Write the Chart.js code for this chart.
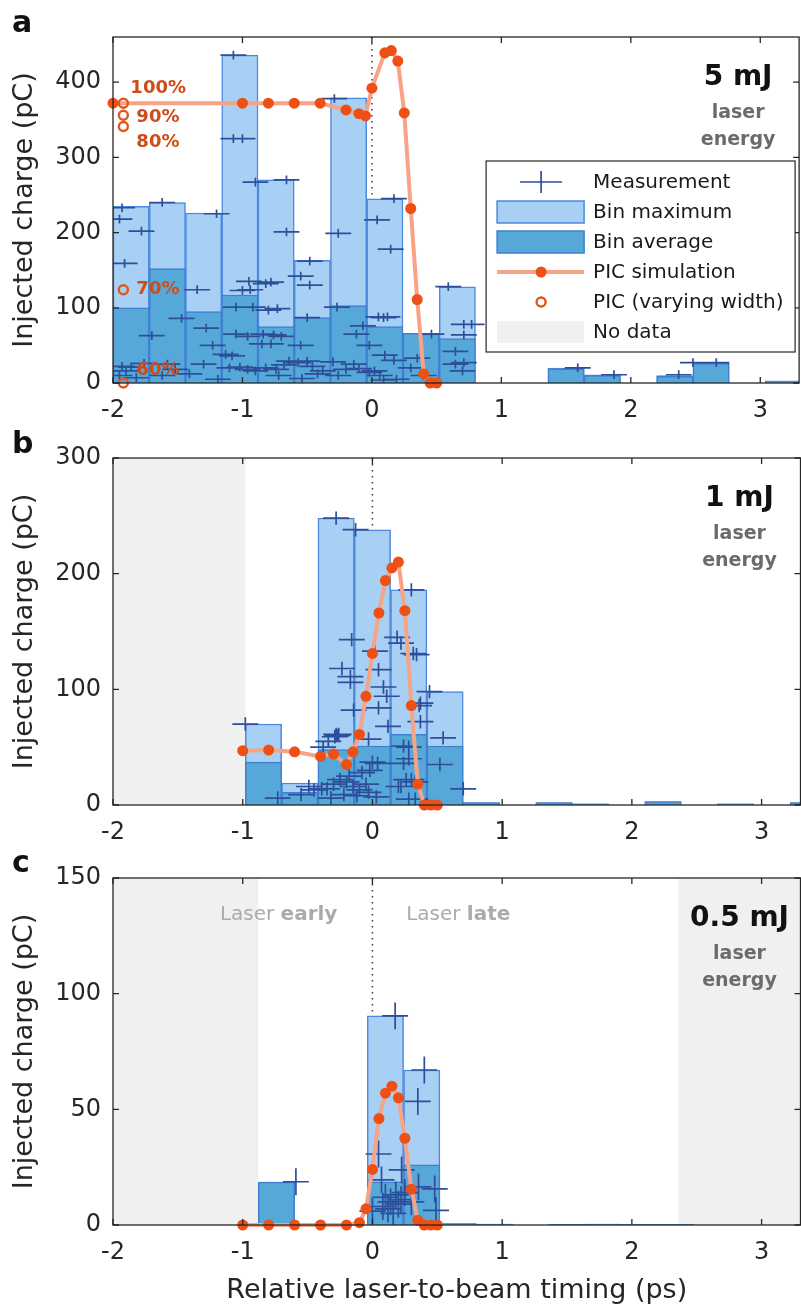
<!DOCTYPE html>
<html>
<head>
<meta charset="utf-8">
<script src="https://cdn.jsdelivr.net/npm/chart.js@4.4.0/dist/chart.umd.min.js"></script>
<style>
  html, body { margin: 0; padding: 0; background: #fff; overflow: hidden; }
  #wrap { position: relative; width: 806px; height: 1315px; }
  .panel { position: absolute; left: 0; width: 806px; }
</style>
</head>
<body>
<div id="wrap">
  <div class="panel" style="top:0;height:430px"><canvas id="chartA"></canvas></div>
  <div class="panel" style="top:430px;height:420px"><canvas id="chartB"></canvas></div>
  <div class="panel" style="top:850px;height:465px"><canvas id="chartC"></canvas></div>
</div>
<script>
// ---- data ----
const X_TICKS = [-2, -1, 0, 1, 2, 3];
const ERR_X = 0.1;   // ps, horizontal error bar of each shot
const ERR_Y = 5.8;   // pC, vertical error bar of each shot

// panel a : 5 mJ
const binsA = [-1.86, -1.58, -1.30, -1.02, -0.74, -0.46, -0.18, 0.10, 0.38, 0.66, 0.94, 1.22, 1.50, 1.78, 2.06, 2.34, 2.62, 2.90, 3.18];
const maxA  = [235, 240, 226, 436, 270, 163, 379, 245, 66, 128, 0, 0, 20, 11, 0, 10, 27, 0, 3];
const avgA  = [100, 152, 95, 117, 75, 87, 103, 75, 66, 59, 0, 0, 19, 10, 0, 9, 26, 0, 2];
const measXA = [-1.93, -1.95, -1.78, -1.91, -1.70, -1.93, -1.86, -1.76, -1.90, -1.95, -1.82,
  -1.62, -1.47, -1.58, -1.52, -1.62,
  -1.35, -1.28, -1.23, -1.20, -1.13, -1.41, -1.19, -1.30,
  -1.07, -1.07, -1.00, -1.00, -0.94, -0.95, -1.05, -0.92, -1.05, -0.96, -1.10, -1.02, -0.96, -0.90, -1.08,
  -0.90, -0.66, -0.66, -0.82, -0.78, -0.73, -0.80, -0.70, -0.76, -0.84, -0.85, -0.78, -0.82, -0.74, -0.68, -0.64, -0.72,
  -0.55, -0.48, -0.48, -0.50, -0.55, -0.57, -0.50, -0.42, -0.54, -0.38, -0.46,
  -0.29, -0.26, -0.27, -0.07, -0.20, -0.26, -0.14, -0.10, -0.02, -0.12, -0.30,
  0.17, 0.04, 0.145, 0.12, 0.09, -0.02, 0.10, 0.17, 0.02, 0.06, 0.09, 0.19, 0.05,
  0.46, 0.30, 0.40, 0.35,
  0.59, 0.71, 0.77, 0.71, 0.645, 0.71, 0.645, 0.70,
  1.59, 1.87, 2.37, 2.48, 2.66];
const measYA = [233, 218, 202, 159, 63, 22, 21, 26, 16, 10, 7,
  240, 86, 25, 18, 10,
  124, 73, 50, 225, 38, 12, 5, 25,
  436, 325, 325, 123, 124, 135, 101, 101, 65, 62, 20, 21, 18, 16, 36,
  267, 270, 201, 132, 134, 99, 97, 62, 64, 65, 52, 52, 20, 18, 24, 29, 10,
  142, 162, 130, 87, 50, 27, 29, 12, 6, 16, 22,
  378, 199, 101, 76, 18, 10, 25, 19, 50, 65, 28,
  245, 217, 178, 88, 87, 14, 37, 30, 16, 10, 4, 5, 88,
  65, 20, 10, 33,
  128, 78, 78, 64, 42, 27, 25, 16,
  20, 11, 11, 27, 27];
const picXA = [-2, -1, -0.8, -0.6, -0.4, -0.2, -0.1, -0.05, 0, 0.1, 0.15, 0.2, 0.25, 0.3, 0.35, 0.4, 0.45, 0.5];
const picYA = [372, 372, 372, 372, 372, 363, 358, 355, 392, 439, 442, 428, 359, 232, 111, 12, 0, 0];
const varyXA = [-1.92, -1.92, -1.92, -1.92, -1.92];
const varyYA = [372, 356, 341, 124, 0];
const varyLabels = ['100%', '90%', '80%', '70%', '60%'];

// panel b : 1 mJ
const binsB = [-0.84, -0.56, -0.28, 0.00, 0.28, 0.56, 0.84, 1.12, 1.40, 1.68, 1.96, 2.24, 2.52, 2.80, 3.08, 3.36];
const maxB  = [70, 19, 248, 238, 186, 98, 2, 0, 2, 1, 0, 3, 0, 1, 0, 2];
const avgB  = [37, 11, 48, 51, 61, 51, 2, 0, 2, 1, 0, 3, 0, 1, 0, 2];
const measXB = [-0.98, -0.73, -0.49, -0.45, -0.55,
  -0.28, -0.13, -0.16, -0.235, -0.17, -0.17, -0.145, -0.28, -0.26, -0.34, -0.38, -0.29, -0.27,
  -0.39, -0.35, -0.30, -0.25, -0.20, -0.15, -0.10, -0.05, -0.22, -0.12, -0.03, 0.03, -0.32, -0.18, -0.08, 0.00, -0.02, 0.04,
  0.02, 0.047, 0.085, 0.11, 0.047, 0.12, -0.03,
  0.19, 0.22, 0.30, 0.315, 0.34, 0.28, 0.28, 0.24, 0.24, 0.26, 0.30, 0.33, 0.20, 0.28, 0.33,
  0.44, 0.37, 0.37, 0.36, 0.545, 0.52, 0.70, 0.22];
const measYB = [70, 6, 16, 13, 9,
  248, 238, 143, 118, 111, 106, 82, 61, 61, 55, 50, 59, 60,
  14, 14, 18, 22, 20, 16, 13, 18, 9, 8, 11, 7, 6, 25, 28, 37, 30, 36,
  133, 117, 102, 94, 84, 68, 57,
  145, 140, 186, 131, 130, 50, 40, 51, 36, 22, 22, 20, 16, 5, 5,
  98, 88, 72, 86, 58, 35, 14, 16];
const picXB = [-1, -0.8, -0.6, -0.4, -0.3, -0.2, -0.15, -0.1, -0.05, 0, 0.05, 0.1, 0.15, 0.2, 0.25, 0.3, 0.35, 0.4, 0.45, 0.5];
const picYB = [47, 47.5, 46, 42, 44, 35, 46, 61, 94, 131, 166, 194, 205, 210, 168, 86, 18, 0, 0, 0];

// panel c : 0.5 mJ
const binsC = [-0.74, -0.46, -0.18, 0.10, 0.38, 0.66, 0.94, 1.22, 1.50, 1.78, 2.06, 2.34];
const maxC  = [18.5, 0.6, 0, 90.4, 67, 0.6, 0.4, 0, 0.3, 0.4, 0.3, 0.3];
const avgC  = [18.5, 0.6, 0, 18.7, 26, 0.6, 0.4, 0, 0.3, 0.4, 0.3, 0.3];
const measXC = [-0.59, 0.175, 0.40, 0.35, 0.047, 0.07, 0.225, 0.48, 0.49, 0.355, 0.00, 0.10, 0.14, 0.18, 0.20, 0.12, 0.16, 0.08, 0.22, 0.25, 0.30];
const measYC = [18.7, 90.4, 67, 53.4, 30.7, 19.5, 23.8, 15.6, 6.3, 16.5, 6, 12, 10, 13, 9, 7, 5, 8, 11, 14, 10];
const picXC = [-1, -0.8, -0.6, -0.4, -0.2, -0.1, -0.05, 0, 0.05, 0.1, 0.15, 0.2, 0.25, 0.3, 0.35, 0.4, 0.45, 0.5];
const picYC = [0, 0, 0, 0, 0, 1, 7, 24, 46, 57, 60, 55, 37.5, 15.5, 2, 0, 0, 0];

// ---- styles ----
const FONT = "'DejaVu Sans', sans-serif";
const C = {
  text: '#262626',
  maxFill: '#a8d0f4', maxLine: '#4c88dc',
  avgFill: '#56a8d9', avgLine: '#3f7fd2',
  meas: '#2d4f9a',
  picLine: '#f8a385', picDot: '#ee4f14',
  vary: '#e2561c', pct: '#cf4c19',
  noData: '#f0f0f0', grey: '#6b6b6b', laserTxt: '#ababab'
};

const pts = (xs, ys) => xs.map((x, i) => ({ x: x, y: ys[i] }));

// gray "no data" areas and the dotted t = 0 line
const backPlugin = {
  id: 'back',
  beforeDatasetsDraw(chart) {
    const { ctx, chartArea: a, scales: { x } } = chart;
    const p = chart.options.panel;
    ctx.save();
    ctx.fillStyle = C.noData;
    (p.noData || []).forEach(r => {
      const x0 = Math.max(a.left, x.getPixelForValue(r[0]));
      const x1 = Math.min(a.right, x.getPixelForValue(r[1]));
      ctx.fillRect(x0, a.top, x1 - x0, a.bottom - a.top);
    });
    const z = x.getPixelForValue(0);
    ctx.strokeStyle = '#3a3a3a';
    ctx.lineWidth = 1.5;
    ctx.setLineDash([1.6, 4.4]);
    ctx.beginPath();
    ctx.moveTo(z, a.top);
    ctx.lineTo(z, a.bottom);
    ctx.stroke();
    ctx.restore();
  }
};

// crosses for the measurements
const errorBarPlugin = {
  id: 'errorBars',
  afterDatasetDraw(chart, args) {
    const ds = chart.data.datasets[args.index];
    if (!ds.errX) return;
    const { ctx, chartArea: a, scales: { x, y } } = chart;
    ctx.save();
    ctx.beginPath();
    ctx.rect(a.left, a.top, a.right - a.left, a.bottom - a.top);
    ctx.clip();
    ctx.strokeStyle = C.meas;
    ctx.lineWidth = 1.7;
    ctx.beginPath();
    ds.data.forEach(pt => {
      const px = x.getPixelForValue(pt.x), py = y.getPixelForValue(pt.y);
      ctx.moveTo(x.getPixelForValue(pt.x - ds.errX), py);
      ctx.lineTo(x.getPixelForValue(pt.x + ds.errX), py);
      ctx.moveTo(px, y.getPixelForValue(pt.y - ds.errY));
      ctx.lineTo(px, y.getPixelForValue(pt.y + ds.errY));
    });
    ctx.stroke();
    ctx.restore();
  }
};

// box, inward ticks and all the labels
const frontPlugin = {
  id: 'front',
  afterDraw(chart) {
    const { ctx, chartArea: a, scales: { x, y } } = chart;
    const p = chart.options.panel;
    ctx.save();
    ctx.strokeStyle = C.text;
    ctx.lineWidth = 1.3;
    ctx.strokeRect(a.left, a.top, a.right - a.left, a.bottom - a.top);
    ctx.beginPath();
    X_TICKS.forEach(v => {
      const px = x.getPixelForValue(v);
      ctx.moveTo(px, a.bottom); ctx.lineTo(px, a.bottom - 6);
      ctx.moveTo(px, a.top); ctx.lineTo(px, a.top + 6);
    });
    y.ticks.forEach(t => {
      const py = y.getPixelForValue(t.value);
      ctx.moveTo(a.left, py); ctx.lineTo(a.left + 6, py);
      ctx.moveTo(a.right, py); ctx.lineTo(a.right - 6, py);
    });
    ctx.stroke();

    // panel letter
    ctx.fillStyle = '#111';
    ctx.font = 'bold 30px ' + FONT;
    ctx.textAlign = 'left';
    ctx.textBaseline = 'alphabetic';
    ctx.fillText(p.letter, 12, p.letterY);

    // energy label
    const cx = a.right - 61;
    ctx.textAlign = 'center';
    ctx.font = 'bold 28px ' + FONT;
    ctx.fillText(p.energy, cx, a.top + 48);
    ctx.fillStyle = C.grey;
    ctx.font = 'bold 19px ' + FONT;
    ctx.fillText('laser', cx, a.top + 81);
    ctx.fillText('energy', cx, a.top + 108);

    if (p.earlyLate) {
      const by = a.top + 42;
      ctx.fillStyle = C.laserTxt;
      ctx.textAlign = 'left';
      ctx.font = 'bold 20px ' + FONT;
      const wEarly = ctx.measureText('early').width;
      ctx.font = '20px ' + FONT;
      const wLaser = ctx.measureText('Laser ').width;
      let xe = x.getPixelForValue(-0.27) - wEarly - wLaser;
      ctx.fillText('Laser ', xe, by);
      ctx.font = 'bold 20px ' + FONT;
      ctx.fillText('early', xe + wLaser, by);
      const xl = x.getPixelForValue(0.26);
      ctx.font = '20px ' + FONT;
      ctx.fillText('Laser ', xl, by);
      ctx.font = 'bold 20px ' + FONT;
      ctx.fillText('late', xl + wLaser, by);
    }

    if (p.vary) {
      const offs = [[7, -15], [13, 2], [13, 16], [13, 0], [13, -13]];
      ctx.fillStyle = C.pct;
      ctx.font = 'bold 18px ' + FONT;
      ctx.textAlign = 'left';
      ctx.textBaseline = 'middle';
      varyLabels.forEach((t, i) => {
        ctx.fillText(t, x.getPixelForValue(varyXA[i]) + offs[i][0], y.getPixelForValue(varyYA[i]) + offs[i][1]);
      });
    }

    if (p.legend) drawLegend(ctx, a);
    ctx.restore();
  }
};

function drawLegend(ctx, a) {
  const L = a.right - 313, T = a.top + 124, W = 309, H = 191;
  ctx.fillStyle = '#fff';
  ctx.fillRect(L, T, W, H);
  ctx.strokeStyle = C.text;
  ctx.lineWidth = 1.2;
  ctx.strokeRect(L, T, W, H);
  const sx0 = L + 11, sx1 = L + 98, sc = L + 55, tx = L + 107;
  const rows = ['Measurement', 'Bin maximum', 'Bin average', 'PIC simulation', 'PIC (varying width)', 'No data'];
  rows.forEach((label, i) => {
    const cy = T + 21 + 30 * i;
    if (i === 0) {
      ctx.strokeStyle = C.meas; ctx.lineWidth = 1.7;
      ctx.beginPath();
      ctx.moveTo(sc - 21, cy); ctx.lineTo(sc + 21, cy);
      ctx.moveTo(sc, cy - 11); ctx.lineTo(sc, cy + 11);
      ctx.stroke();
    } else if (i === 1 || i === 2) {
      ctx.fillStyle = i === 1 ? C.maxFill : C.avgFill;
      ctx.strokeStyle = i === 1 ? C.maxLine : C.avgLine;
      ctx.lineWidth = 1.5;
      ctx.fillRect(sx0, cy - 11, sx1 - sx0, 22);
      ctx.strokeRect(sx0, cy - 11, sx1 - sx0, 22);
    } else if (i === 3) {
      ctx.strokeStyle = C.picLine; ctx.lineWidth = 4;
      ctx.beginPath(); ctx.moveTo(sx0, cy); ctx.lineTo(sx1, cy); ctx.stroke();
      ctx.fillStyle = C.picDot;
      ctx.beginPath(); ctx.arc(sc, cy, 5.5, 0, Math.PI * 2); ctx.fill();
    } else if (i === 4) {
      ctx.strokeStyle = C.vary; ctx.lineWidth = 2.4;
      ctx.beginPath(); ctx.arc(sc, cy, 4.5, 0, Math.PI * 2); ctx.stroke();
    } else {
      ctx.fillStyle = C.noData;
      ctx.fillRect(sx0, cy - 11, sx1 - sx0, 22);
    }
    ctx.fillStyle = '#1a1a1a';
    ctx.font = '20px ' + FONT;
    ctx.textAlign = 'left';
    ctx.textBaseline = 'middle';
    ctx.fillText(label, tx, cy + 1);
  });
}

function makePanel(id, p) {
  const datasets = [
    { label: 'Bin maximum', data: pts(p.bins, p.max), backgroundColor: C.maxFill, borderColor: C.maxLine,
      borderWidth: 1.5, grouped: false, barPercentage: 1, categoryPercentage: 1, order: 5 },
    { label: 'Bin average', data: pts(p.bins, p.avg), backgroundColor: C.avgFill, borderColor: C.avgLine,
      borderWidth: 1.5, grouped: false, barPercentage: 1, categoryPercentage: 1, order: 4 },
    { type: 'scatter', label: 'Measurement', data: pts(p.measX, p.measY), pointRadius: 0,
      errX: ERR_X, errY: ERR_Y, order: 3 },
    { type: 'line', label: 'PIC simulation', data: pts(p.picX, p.picY), borderColor: C.picLine, borderWidth: 4,
      pointRadius: 5.5, pointBackgroundColor: C.picDot, pointBorderWidth: 0, tension: 0, clip: false, order: 2 }
  ];
  if (p.vary) {
    datasets.push({ type: 'scatter', label: 'PIC (varying width)', data: pts(varyXA, varyYA), pointRadius: 4.5,
      pointBorderWidth: 2.4, pointBorderColor: C.vary, pointBackgroundColor: 'rgba(255,255,255,0)', clip: false, order: 1 });
  }
  return new Chart(document.getElementById(id), {
    type: 'bar',
    data: { datasets: datasets },
    plugins: [backPlugin, errorBarPlugin, frontPlugin],
    options: {
      panel: p,
      responsive: true,
      maintainAspectRatio: false,
      animation: false,
      events: [],
      layout: { padding: { top: p.top, right: 3, left: 0, bottom: 0 } },
      plugins: { legend: { display: false }, tooltip: { enabled: false } },
      scales: {
        x: {
          type: 'linear', min: -2, max: 3.3, offset: false,
          grid: { display: false, drawTicks: false }, border: { display: false },
          ticks: { stepSize: 1, includeBounds: false, padding: 13, color: C.text, maxRotation: 0, autoSkip: false,
                   font: { family: FONT, size: 24 } },
          title: p.xTitle ? { display: true, text: 'Relative laser-to-beam timing (ps)', color: C.text,
                   font: { family: FONT, size: 27 }, padding: { top: 0, bottom: 8 } } : { display: false },
          afterFit: s => { s.height = p.xHeight; }
        },
        y: {
          min: 0, max: p.yMax,
          grid: { display: false, drawTicks: false }, border: { display: false },
          ticks: { stepSize: p.yStep, includeBounds: false, padding: 12, color: C.text,
                   font: { family: FONT, size: 24 } },
          title: { display: true, text: 'Injected charge (pC)', color: C.text,
                   font: { family: FONT, size: 27 }, padding: { top: 9, bottom: 0 } },
          afterFit: s => { s.width = 113; }
        }
      }
    }
  });
}

makePanel('chartA', { letter: 'a', letterY: 32, energy: '5 mJ', top: 37, xHeight: 47, yMax: 460, yStep: 100,
  bins: binsA, max: maxA, avg: avgA, measX: measXA, measY: measYA, picX: picXA, picY: picYA,
  vary: true, legend: true, noData: [] });
makePanel('chartB', { letter: 'b', letterY: 23, energy: '1 mJ', top: 28, xHeight: 45, yMax: 300, yStep: 100,
  bins: binsB, max: maxB, avg: avgB, measX: measXB, measY: measYB, picX: picXB, picY: picYB,
  noData: [[-2, -0.98]] });
makePanel('chartC', { letter: 'c', letterY: 22, energy: '0.5 mJ', top: 28, xHeight: 90, yMax: 150, yStep: 50,
  bins: binsC, max: maxC, avg: avgC, measX: measXC, measY: measYC, picX: picXC, picY: picYC,
  noData: [[-2, -0.88], [2.36, 3.3]], earlyLate: true, xTitle: true });
</script>
</body>
</html>
